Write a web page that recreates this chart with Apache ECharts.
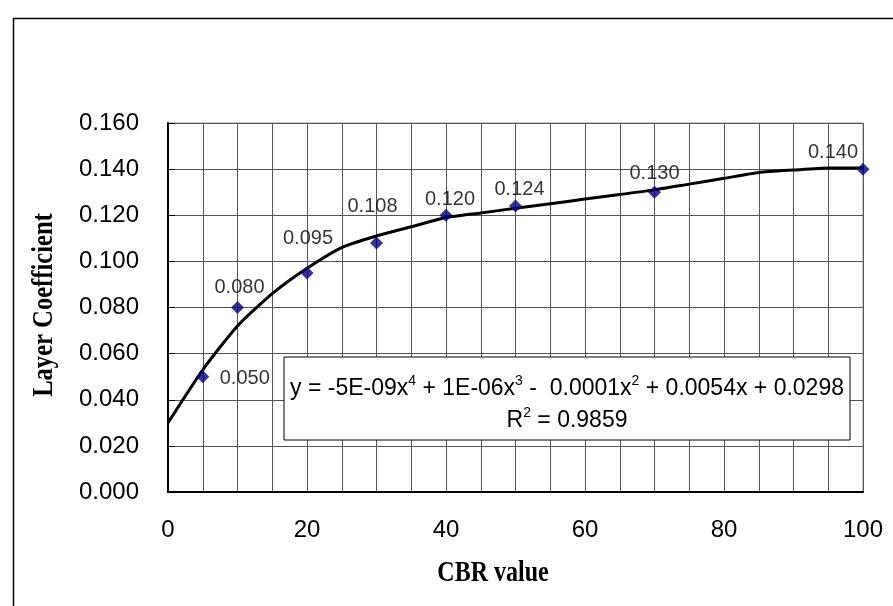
<!DOCTYPE html>
<html><head><meta charset="utf-8">
<script src="https://cdn.jsdelivr.net/npm/echarts@6/dist/echarts.min.js"></script>
<style>html,body{margin:0;padding:0;background:#fff}#c{width:893px;height:606px}</style>
</head><body><div id="c"></div>
<script>
// measured data
const cbr = [5, 10, 20, 30, 40, 50, 70, 100];
const layerCoef = [0.050, 0.080, 0.095, 0.108, 0.120, 0.124, 0.130, 0.140];
// trend line
const trendX = [0,5,10,15,20,25,30,35,40,45,50,55,60,65,70,75,80,85,90,95,100];
const trendY = [0.030,0.053,0.072,0.086,0.097,0.106,0.111,0.115,0.119,0.121,0.123,0.125,0.127,0.129,0.131,0.1335,0.136,0.1385,0.1396,0.1405,0.1405];
const xTicks = [0, 20, 40, 60, 80, 100];
const xTitle = 'CBR value';
const yTitle = 'Layer Coefficient';
const eqLine1 = ['y = -5E-09x', '4', ' + 1E-06x', '3', ' -  0.0001x', '2', ' + 0.0054x + 0.0298'];
const eqLine2 = ['R', '2', ' = 0.9859'];

// label centre offsets from each point (px)
const labelOffsets = [[42,1],[2,-21],[1,-35],[-4,-37],[4,-16],[4,-17],[0,-19],[-30,-17]];

const chart = echarts.init(document.getElementById('c'), null, {renderer:'canvas'});
const FONT = '"Liberation Sans", Arial, sans-serif';
const SERIF = '"Liberation Serif", "Times New Roman", serif';

function richLine(parts){
  return parts.map((p,i)=> i%2===1 ? '{s|'+p+'}' : '{n|'+p+'}').join('');
}
const eqRich = {n:{fontFamily:FONT, fontSize:23, fill:'#000', color:'#000'},
                s:{fontFamily:FONT, fontSize:14, fill:'#000', color:'#000', padding:[0,0,15,0]}};

const option = {
  backgroundColor:'#fff',
  animation:false,
  grid:{left:168, top:123, width:695, height:369, show:true, borderColor:'#999', borderWidth:1},
  xAxis:{type:'value', min:0, max:100, interval:5,
    axisLine:{show:true, onZero:false, lineStyle:{color:'#000', width:2}},
    axisTick:{show:false},
    splitLine:{show:true, lineStyle:{color:'#555', width:1}},
    axisLabel:{fontFamily:FONT, fontSize:24, color:'#000', margin:26,
      formatter:v=> xTicks.indexOf(v)>=0 ? String(v) : ''}
  },
  yAxis:{type:'value', min:0, max:0.16, interval:0.02,
    axisLine:{show:true, onZero:false, lineStyle:{color:'#000', width:2}},
    axisTick:{show:true, inside:true, length:7, lineStyle:{color:'#000', width:1}},
    splitLine:{show:true, lineStyle:{color:'#555', width:1}},
    axisLabel:{fontFamily:FONT, fontSize:24, color:'#000', margin:29,
      formatter:v=> v.toFixed(3)}
  },
  series:[
    {type:'line', data:trendX.map((x,i)=>[x,trendY[i]]), showSymbol:false, smooth:0.2,
     lineStyle:{color:'#000', width:3}, z:2, silent:true},
    {type:'scatter', data:cbr.map((x,i)=>({value:[x,layerCoef[i]],
        label:{offset:[labelOffsets[i][0], labelOffsets[i][1]+17]}})),
     symbol:'diamond', symbolSize:[13,13], itemStyle:{color:'#000080'}, z:3,
     label:{show:true, position:'top', distance:0, fontFamily:FONT, fontSize:20, color:'#000',
       formatter:p=>p.value[1].toFixed(3)}}
  ],
  graphic:[
    {type:'rect', left:11, top:16, shape:{width:900, height:620}, style:{fill:'none', stroke:'#000', lineWidth:1.5}, z:-1, silent:true},
    {type:'rect', x:284, y:357, z:100, shape:{x:0,y:0,width:566,height:83}, style:{fill:'#ffffff', stroke:'#000', lineWidth:1}},
    {type:'text', x:567, y:389, z:101, style:{text:richLine(eqLine1), align:'center', verticalAlign:'middle', rich:eqRich}},
    {type:'text', x:567, y:421, z:101, style:{text:richLine(eqLine2), align:'center', verticalAlign:'middle', rich:eqRich}},
    {type:'text', x:493, y:573, scaleX:0.8, z:101, style:{text:xTitle, font:'bold 30px '+SERIF, fill:'#000', align:'center', verticalAlign:'middle'}},
    {type:'text', x:44, y:305, rotation:Math.PI/2, scaleX:0.82, z:101, style:{text:yTitle, font:'bold 30px '+SERIF, fill:'#000', align:'center', verticalAlign:'middle'}}
  ]
};
chart.setOption(option);
</script>
</body></html>
